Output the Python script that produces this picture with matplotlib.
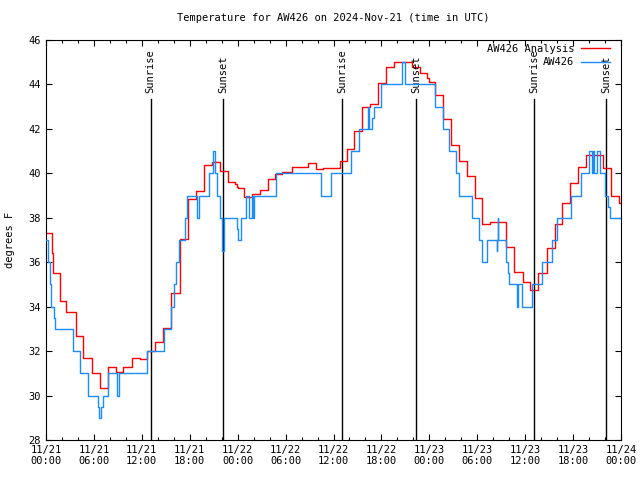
import datetime as dt
import matplotlib
matplotlib.use("Agg")
import matplotlib.pyplot as plt
import matplotlib.dates as mdates

# analysis (red): step breakpoints, hours after 2024-11-21 00:00 UTC
red_h = [0.0, 0.7, 0.85, 1.75, 2.5, 3.7, 4.67, 5.7, 6.76, 7.8, 8.77, 9.68, 10.8, 11.77,
         12.6, 13.6, 14.7, 15.7, 16.8, 17.8, 18.8, 19.8, 20.8, 21.8, 22.8, 23.7, 23.9,
         24.0, 24.8, 25.75, 26.8, 27.8, 28.7, 29.6, 30.75, 32.8, 33.8, 34.7, 35.8, 36.8,
         37.7, 38.6, 39.6, 40.6, 41.6, 42.6, 43.6, 44.85, 45.8, 46.8, 47.75, 48.0, 48.7,
         49.7, 50.7, 51.75, 52.7, 53.7, 54.6, 55.6, 57.6, 58.65, 59.7, 60.6, 61.6, 62.7,
         63.7, 64.65, 65.6, 66.65, 67.6, 69.7, 70.7, 71.7, 72.0]
red_t = [37.3, 36.4, 35.5, 34.25, 33.75, 32.7, 31.7, 31.0, 30.35, 31.3, 31.05, 31.3, 31.7, 31.65,
         32.0, 32.4, 33.05, 34.6, 37.05, 38.83, 39.22, 40.38, 40.52, 40.12, 39.62, 39.5, 39.4,
         39.33, 38.95, 39.07, 39.25, 39.73, 39.97, 40.05, 40.27, 40.45, 40.18, 40.22, 40.25, 40.55,
         41.08, 41.92, 42.97, 43.12, 44.05, 44.8, 45.02, 45.0, 44.8, 44.5, 44.3, 44.1, 43.52,
         42.43, 41.27, 40.55, 39.88, 38.88, 37.7, 37.8, 36.67, 35.57, 35.12, 34.75, 35.5, 36.62,
         37.7, 38.65, 39.55, 40.27, 40.83, 40.22, 39.0, 38.68, 38.68]

# observations (blue)
blue_h = [0.0, 0.2, 0.45, 0.6, 1.05, 1.1, 3.4, 4.2, 5.2, 5.3, 6.55, 6.67, 6.9, 7.1, 7.8,
          8.93, 9.18, 12.6, 14.8, 15.6, 16.0, 16.3, 16.6, 17.4, 17.7, 18.95, 19.1, 20.4,
          20.85, 21.15, 21.4, 21.8, 22.1, 22.3, 23.9, 24.1, 24.4, 25.1, 25.4, 25.75, 25.9,
          26.1, 28.8, 34.4, 35.65, 38.2, 39.2, 40.35, 40.5, 40.85, 41.1, 41.9, 44.55, 44.9,
          48.7, 49.7, 50.4, 50.45, 51.4, 51.75, 53.3, 54.25, 54.55, 55.25, 56.45, 56.5,
          56.55, 56.65, 57.55, 57.9, 58.0, 58.95, 59.05, 59.6, 60.9, 62.15, 63.3, 63.95,
          65.8, 66.95, 68.05, 68.35, 68.5, 68.6, 68.95, 69.4, 70.0, 70.4, 70.6, 72.0]
blue_t = [37, 36, 35, 34, 33.5, 33, 32, 31, 30.5, 30, 29.5, 29, 29.5, 30, 31,
          30, 31, 32, 33, 34, 35, 36, 37, 38, 39, 38, 39, 40,
          41, 40, 39, 38, 36.5, 38, 37.5, 37, 38, 39, 38, 39, 38,
          39, 40, 39, 40, 41, 42, 43, 42, 42.5, 43, 44, 45, 44,
          43, 42, 41.5, 41, 40, 39, 38, 37, 36, 37, 36.5, 37,
          38, 37, 36, 35.5, 35, 34, 35, 34, 35, 36, 37, 38,
          39, 40, 41, 40, 41, 40, 41, 40, 39, 38.5, 38, 38]

sun_h = [13.1, 22.2, 37.1, 46.3, 61.15, 70.1]
sun_lbl = ["Sunrise", "Sunset", "Sunrise", "Sunset", "Sunrise", "Sunset"]

base = dt.datetime(2024, 11, 21)
def to_time(hours):
    return [base + dt.timedelta(hours=h) for h in hours]

plt.rcParams["font.family"] = "DejaVu Sans Mono"
plt.rcParams["font.size"] = 7.5

fig = plt.figure(figsize=(6.4, 4.8), dpi=100)
ax = fig.add_axes([46 / 640, 40 / 480, 575 / 640, 400 / 480])

for h, lbl in zip(sun_h, sun_lbl):
    t = base + dt.timedelta(hours=h)
    ax.plot([t, t], [28, 43.35], color="black", lw=1.0, zorder=1)
    ax.text(t, 43.6, lbl, rotation=90, ha="center", va="bottom", fontsize=7.5)

ax.step(to_time(red_h), red_t, where="post", color="#ff0000", lw=1.0, label="AW426 Analysis", zorder=2)
ax.step(to_time(blue_h), blue_t, where="post", color="#1a8cff", lw=1.0, label="AW426", zorder=3)

ax.set_xlim(base, base + dt.timedelta(hours=72))
ax.set_ylim(28, 46)
ax.set_yticks(range(28, 47, 2))
ax.xaxis.set_major_locator(mdates.HourLocator(byhour=[0, 6, 12, 18]))
ax.xaxis.set_minor_locator(mdates.HourLocator(interval=2))
ax.xaxis.set_major_formatter(mdates.DateFormatter("%m/%d\n%H:%M"))
ax.tick_params(which="both", direction="in", top=True, right=True, width=0.8)
ax.tick_params(which="major", length=4, labelsize=7.5)
ax.tick_params(which="minor", length=2)
for s in ax.spines.values():
    s.set_linewidth(0.8)

ax.set_ylabel("degrees F", fontsize=7.5, labelpad=10)
ax.set_title("Temperature for AW426 on 2024-Nov-21 (time in UTC)", fontsize=7.5, pad=14)
ax.legend(loc="upper right", bbox_to_anchor=(0.993, 1.008), frameon=False, markerfirst=False,
          handlelength=2.8, fontsize=7.5, borderaxespad=0.3, labelspacing=0.3, handletextpad=0.6)

fig.savefig("out.png", dpi=100)
